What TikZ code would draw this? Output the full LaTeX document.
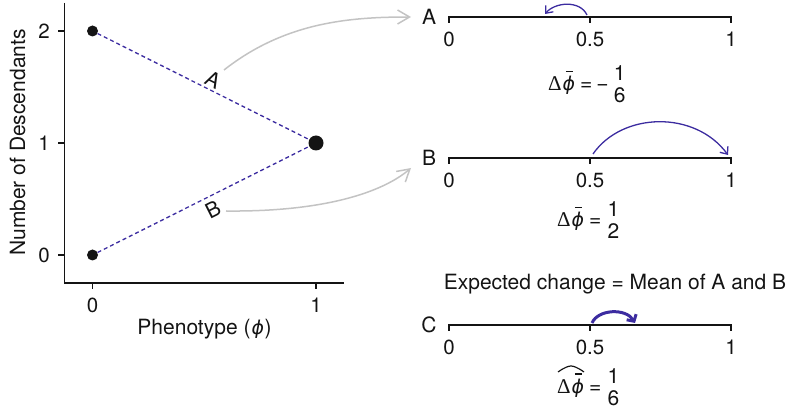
\documentclass[tikz,border=0pt]{standalone}
\usepackage{fontspec}
\setmainfont{TeX Gyre Heros}
\newfontfamily\symfont{Liberation Serif}
\newfontfamily\phifont[FakeSlant=0.18]{DejaVu Sans}
\newcommand\Dlt{{\symfont Δ}}
\newcommand\phiglyph{{\phifont\fontsize{19}{22}\selectfont ϕ}}
\newcommand\phibar{\ooalign{\hfil\kern3pt\raisebox{18.5pt}{\rule{7pt}{1.4pt}}\hfil\cr\phiglyph}}
\newcommand\fracst[2]{\ooalign{\raisebox{10pt}{#1}\cr\raisebox{-12pt}{#2}}}
\usetikzlibrary{arrows.meta}
\definecolor{dblue}{RGB}{60,44,160}
\definecolor{lgray}{RGB}{195,195,195}
\definecolor{ink}{RGB}{20,20,20}
\begin{document}
\begin{tikzpicture}[x=1pt,y=-1pt,
  every node/.style={font=\fontsize{21}{25}\selectfont, text=ink},
  dotnode/.style={circle,fill=ink,inner sep=0pt,minimum size=11pt},
  bigdotnode/.style={circle,fill=ink,inner sep=0pt,minimum size=15pt},
  axisline/.style={line width=1.5pt,draw=ink},
  ticknum/.style={font=\fontsize{20.5}{24}\selectfont},
  eqnode/.style={anchor=base west,inner sep=0pt},
  dashline/.style={draw=dblue,line width=1.3pt,dash pattern=on 4pt off 3pt},
  grayarrow/.style={draw=lgray,line width=1.5pt,-{Straight Barb[length=12pt,width=14pt]}},
  bluearrow/.style={draw=dblue,line width=1.3pt,-{Straight Barb[length=6pt,width=10pt]}},
  thickarrow/.style={draw=dblue,line width=3pt,-{Straight Barb[length=5pt,width=11pt]}},
  hatline/.style={draw=ink,line width=1.2pt},
]
\useasboundingbox (0,0) rectangle (792,411);

% ---- left plot axes
\draw[axisline] (64.5,3) -- (64.5,283) -- (344,283);
\foreach \yy in {31,143,255} \draw[axisline] (58,\yy) -- (64.5,\yy);
\foreach \xx in {92.5,316} \draw[axisline] (\xx,283) -- (\xx,289.5);
\node[ticknum] (y2) at (44,31.5) {2};
\node[ticknum] (y1) at (44,143.5) {1};
\node[ticknum] (y0) at (44,255.5) {0};
\node[ticknum] (x0) at (92.5,305) {0};
\node[ticknum] (x1) at (316,305) {1};
\node[anchor=base] (xlab) at (204.5,334.3) {Phenotype (\phiglyph\kern1.5pt)};
\node[anchor=base,rotate=90] (ylab) at (25,142.5) {Number of Descendants};

% ---- points and dashed lines
\node[dotnode] (p2) at (92.5,31) {};
\node[bigdotnode] (p1) at (316,143) {};
\node[dotnode] (p0) at (92.5,255) {};
\draw[dashline] (p2) -- (p1);
\draw[dashline] (p0) -- (p1);
\node[rotate=-26.6] (la) at (213,80) {A};
\node[rotate=26.6] (lb) at (213,210) {B};

% ---- number lines
\foreach \yy/\nm/\lt in {17/A/A,158/B/B,325/C/C}{
  \draw[axisline] (449,\yy+6) -- (449,\yy) -- (731,\yy) -- (731,\yy+6);
  \draw[axisline] (590,\yy) -- (590,\yy+6);
  \node (n\nm) at (429,\yy) {\lt};
  \node[ticknum] (t0\nm) at (449,\yy+22.5) {0};
  \node[ticknum] (th\nm) at (590,\yy+22.5) {0.5};
  \node[ticknum] (t1\nm) at (731,\yy+22.5) {1};
}

% ---- gray connectors
\coordinate (gAs) at (224,70);
\coordinate (gAe) at (411,17);
\coordinate (gBs) at (226,211);
\coordinate (gBe) at (411,168);
\draw[grayarrow] (gAs) .. controls (285,22) and (350,17) .. (gAe);
\draw[grayarrow] (gBs) .. controls (325,212) and (383,192) .. (gBe);

% ---- blue arrows on number lines
\coordinate (aS) at (587,15);
\coordinate (aE) at (545,14);
\draw[bluearrow] (aS) .. controls (580,0) and (555,2) .. (aE);
\coordinate (bS) at (593,154);
\coordinate (bE) at (728,155);
\draw[bluearrow] (bS) .. controls (622,112) and (695,110) .. (bE);
\coordinate (cS) at (592,323);
\coordinate (cE) at (635,323);
\draw[thickarrow] (cS) .. controls (598,309) and (626,308) .. (cE);

% ---- equations
\node[eqnode] (eqA) at (548,91) {\Dlt\phibar\kern6pt=\kern4pt−\kern5pt\fracst{1}{6}};
\node[eqnode] (eqB) at (557,227) {\Dlt\phibar\kern6pt=\kern6pt\fracst{1}{2}};
\node[anchor=base] (exp) at (615,290) {Expected change = Mean of A and B};
\node[eqnode] (eqC) at (557,393) {\Dlt\phibar\kern6pt=\kern6pt\fracst{1}{6}};
\draw[hatline] ([shift={(1,-21)}]eqC.base west) .. controls ([shift={(8,-26)}]eqC.base west) and ([shift={(12,-27)}]eqC.base west) .. ([shift={(14,-27)}]eqC.base west)
  .. controls ([shift={(16,-27)}]eqC.base west) and ([shift={(20,-26)}]eqC.base west) .. ([shift={(27,-21)}]eqC.base west);
\end{tikzpicture}
\end{document}
